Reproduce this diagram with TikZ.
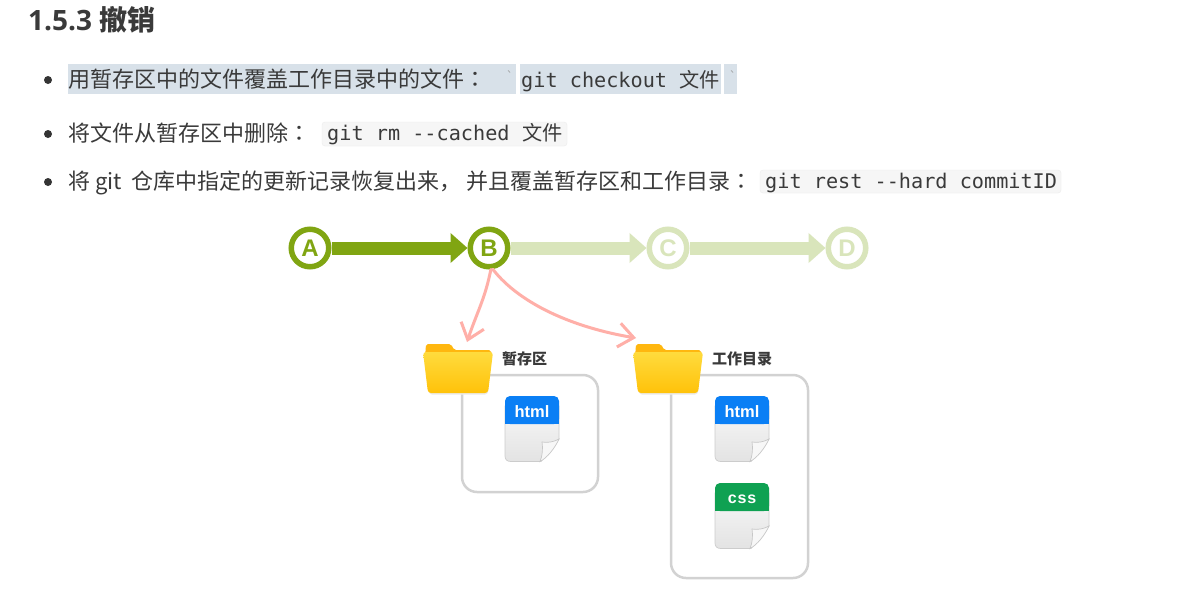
\documentclass[tikz,border=0pt]{standalone}
\usepackage{fontspec}
\setmainfont{Noto Sans CJK SC}
\newfontfamily\cjkf{Noto Sans CJK SC}
\newfontfamily\jpf{Noto Sans CJK JP}
\newfontfamily\titlef{Open Sans}
\newfontfamily\codef{DejaVu Sans Mono}
\newfontfamily\labelf{Liberation Sans}
\usetikzlibrary{arrows.meta,positioning,calc}
\definecolor{txt}{HTML}{3A3A3A}
\definecolor{hl}{HTML}{D8E1E9}
\definecolor{codebg}{HTML}{F6F6F6}
\definecolor{codeln}{HTML}{EDEDED}
\definecolor{grn}{HTML}{80A512}
\definecolor{lgrn}{HTML}{D9E5BB}
\definecolor{pinkl}{HTML}{FFAFA8}
\definecolor{boxl}{HTML}{D2D2D2}
\definecolor{blu}{HTML}{0A7FF5}
\definecolor{gre}{HTML}{0FA152}
\definecolor{foldtop}{HTML}{FFDB3D}
\definecolor{foldbot}{HTML}{FFC20A}
\definecolor{foldtab}{HTML}{FFB70F}
\tikzset{
  x=1pt,y=-1pt,
  body/.style={anchor=base west,inner sep=0pt,text=txt,font=\cjkf\fontsize{22}{22}\selectfont},
  code/.style={anchor=base west,inner sep=0pt,text=txt,font=\codef\fontsize{20.2}{20.2}\selectfont},
  bullet/.style={circle,fill=txt!90!black,inner sep=0pt,minimum size=8pt},
  commit/.style={circle,draw=grn,line width=5.5pt,fill=white,minimum size=37.5pt,inner sep=0pt,text=grn,font=\labelf\bfseries\fontsize{24}{24}\selectfont},
  commitl/.style={commit,draw=lgrn,text=lgrn},
  bigarrow/.style={line width=13pt,-{Triangle[length=17pt,width=29pt]},draw=#1},
  pinkarrow/.style={line width=3pt,draw=pinkl,-{Straight Barb[length=15pt,width=24pt,line width=3pt]},line cap=round},
  framebox/.style={draw=boxl,line width=2.5pt,rounded corners=15pt,fill=white},
  foldlabel/.style={anchor=base west,inner sep=0pt,text=txt,font=\cjkf\bfseries\fontsize{15}{15}\selectfont},
  filelabel/.style={inner sep=0pt,text=white,font=\labelf\bfseries\fontsize{#1}{#1}\selectfont},
}
\newcommand{\fileicon}[5]{% x y colour text fontsize
  \begin{scope}[shift={(#1,#2)}]
    \path[draw=black!20,line width=.7pt,top color=black!3,bottom color=black!11]
      (0,10) -- (54,10) -- (54,43) -- (36,65.5) -- (6,65.5) .. controls (2,65.5) and (0,63.5) .. (0,60) -- cycle;
    \path[draw=black!22,line width=.7pt,fill=black!3]
      (54,43) .. controls (49,46) and (42,47) .. (37,46) .. controls (38,52) and (37.5,60) .. (35,65.5) .. controls (42,62) and (50,52) .. (54,43) -- cycle;
    \fill[#3,rounded corners=5pt] (0,28) -- (0,0) -- (54,0) -- (54,28) -- cycle;
    \fill[#3] (0,18) rectangle (54,28);
    \node[filelabel=#5] (file#1#2) at (27,16) {#4};
  \end{scope}
}
\newcommand{\foldericon}[2]{%
  \begin{scope}[shift={(#1,#2)}]
    \fill[black!8,rounded corners=3pt] (4,12) -- (67,12) -- (65,50.5) -- (6,50.5) -- cycle;
    \fill[foldtab,rounded corners=2pt] (2,14) -- (3,0) -- (28,0) -- (31,6) -- (68,6) -- (69,14) -- cycle;
    \path[top color=foldtop,bottom color=foldbot,rounded corners=3pt]
      (0,8) -- (70,8) -- (65,49) -- (5,49) -- cycle;
  \end{scope}
}
\begin{document}
\begin{tikzpicture}
\useasboundingbox (0,0) rectangle (1193,611);
\fill[white] (0,0) rectangle (1193,611);

% heading
\node[anchor=base west,inner sep=0pt,text=txt,font=\titlef\bfseries\fontsize{28}{28}\selectfont] (title) at (28,30) {1.5.3 {\cjkf\bfseries 撤销}};

% bullets
\node[bullet] (b1) at (48,80) {};
\node[bullet] (b2) at (48,134) {};
\node[bullet] (b3) at (48,182) {};

% row 1
\fill[hl] (68,64) rectangle (516,94);
\fill[hl] (520,64) rectangle (721,94);
\fill[hl] (724,64) rectangle (737,94);
\node[body] (r1) at (68,87) {用暂存区中的文件覆盖工作目录中的文件{\jpf ：}};
\node[code,text=black!40] (q1) at (506,80) {\fontsize{12}{12}\selectfont `};
\node[code] (c1) at (521,87) {git checkout\hspace{12.5pt}{\cjkf 文件}};
\node[code,text=black!40] (q2) at (729,80) {\fontsize{12}{12}\selectfont `};

% row 2
\node[body] (r2) at (68,141) {将文件从暂存区中删除{\jpf ：}};
\draw[codeln,fill=codebg,rounded corners=3pt] (322,122) rectangle (567,146);
\node[code] (c2) at (327,140) {git rm --cached\hspace{13pt}{\cjkf 文件}};

% row 3
\node[body] (r3a) at (68,189) {将 git};
\node[body] (r3b) at (131,189) {仓库中指定的更新记录恢复出来，};
\node[body] (r3c) at (466,189) {并且覆盖暂存区和工作目录{\jpf ：}};
\draw[codeln,fill=codebg,rounded corners=3pt] (760,170) rectangle (1061,193);
\node[code] (c3) at (765,188) {git rest --hard commitID};

% commits
\node[commit] (a) at (310,248) {A};
\node[commit] (bb) at (489,248) {B};
\node[commitl] (cc) at (668,248) {C};
\node[commitl] (dd) at (847,248) {D};
\draw[bigarrow=lgrn] (bb) -- (cc);
\draw[bigarrow=lgrn] (cc) -- (dd);
\draw[bigarrow=grn] (a) -- (bb);

% frames
\node[framebox,minimum width=136pt,minimum height=117pt,inner sep=0pt] (box1) at (530,433.5) {};
\node[framebox,minimum width=137pt,minimum height=203pt,inner sep=0pt] (box2) at (739.5,476.5) {};

% folders
\foldericon{423}{344}
\foldericon{633}{344}
\node[foldlabel] (l1) at (502,364) {暂存区};
\node[foldlabel] (l2) at (712,364) {工作目录};

% files
\fileicon{505}{396}{blu}{html}{16.5}
\fileicon{715}{396}{blu}{html}{16.5}
\fileicon{715}{483}{gre}{c\kern.8pt s\kern.8pt s}{16}

% pink arrows
\coordinate (f1) at (467,342);
\coordinate (f2) at (636,338);
\draw[pinkarrow] (bb.-85) .. controls ($(bb.-85)+(-6,30)$) and ($(f1)+(10,-30)$) .. (f1);
\draw[pinkarrow] (bb.-80) .. controls ($(bb.-80)+(28,36)$) and ($(f2)+(-60,-10)$) .. (f2);
\end{tikzpicture}
\end{document}
